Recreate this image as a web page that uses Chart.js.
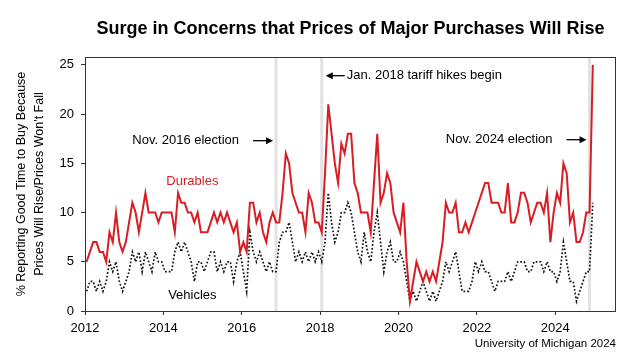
<!DOCTYPE html>
<html>
<head>
<meta charset="utf-8">
<script src="https://cdn.jsdelivr.net/npm/chart.js@4"></script>
<style>
  html, body { margin: 0; padding: 0; background: #fff; }
  #wrap { width: 627px; height: 360px; }
</style>
</head>
<body>
<div id="wrap"><canvas id="chart" width="627" height="360"></canvas></div>
<script>
const startYear = 2012;

// monthly readings, Jan 2012 - Dec 2024
const durables = [
  5, 6, 7, 7, 6, 6, 5, 8, 7, 10, 7, 6,        // 2012
  7, 9, 11, 10, 8, 10, 12, 10, 10, 10, 9, 10, // 2013
  10, 10, 10, 8, 12, 11, 11, 10, 10, 9, 10, 8, // 2014
  8, 8, 9, 10, 9, 10, 9, 10, 9, 8, 9, 6,      // 2015
  7, 6, 11, 11, 9, 10, 8, 7, 9, 10, 9, 9,     // 2016
  12, 16, 15, 12, 11, 10, 10, 8, 12, 11, 9, 9, // 2017
  8, 14, 21, 18, 15, 13, 17, 16, 18, 18, 13, 12, // 2018
  10, 10, 10, 8, 13, 18, 11, 12, 14, 13, 10, 9, // 2019
  8, 11, 5, 1, 3, 5, 4, 3, 4, 3, 4, 3,        // 2020
  5, 7, 11, 10, 10, 11, 8, 8, 9, 8, 9, 10,    // 2021
  11, 12, 13, 13, 11, 11, 11, 10, 10, 13, 9, 9, // 2022
  10, 12, 12, 11, 9, 10, 11, 11, 10, 12, 7, 10, // 2023
  12, 11, 15, 14, 9, 10, 7, 7, 8, 10, 10, 25  // 2024
];
const vehicles = [
  2, 3, 3, 2, 3, 2, 3, 5, 4, 5, 3, 2,         // 2012
  3, 4, 6, 5, 6, 4, 6, 5, 4, 6, 5, 5,         // 2013
  4, 4, 4, 6, 7, 6, 7, 6, 5, 3, 5, 5,         // 2014
  4, 5, 6, 6, 4, 5, 4, 5, 5, 3, 5, 6,         // 2015
  4, 2, 8, 6, 5, 6, 5, 4, 5, 4, 4, 7,         // 2016
  8, 8, 9, 7, 5, 6, 5, 6, 5, 6, 5, 6,         // 2017
  5, 7, 12, 9, 7, 8, 10, 10, 11, 10, 8, 6,    // 2018
  5, 8, 6, 5, 8, 10, 7, 4, 6, 7, 5, 5,        // 2019
  6, 5, 3, 1, 2, 1, 2, 3, 2, 1, 2, 1,         // 2020
  2, 3, 5, 4, 5, 6, 4, 2, 2, 2, 3, 5,         // 2021
  4, 5, 4, 4, 3, 2, 3, 3, 3, 4, 3, 4,         // 2022
  5, 5, 5, 4, 4, 5, 5, 5, 4, 5, 4, 4,         // 2023
  3, 4, 7, 5, 3, 3, 1, 2, 3, 4, 4, 11         // 2024
];

const xTicks = [2012, 2014, 2016, 2018, 2020, 2022, 2024];
const yTicks = [0, 5, 10, 15, 20, 25];

// event markers: [year, month index]
const eventYears = [2016, 2018, 2024];
const eventMonths = [10, 0, 10];
const eventLabels = ['Nov. 2016 election', 'Jan. 2018 tariff hikes begin', 'Nov. 2024 election'];
const eventLabelY = [17.3, 23.9, 17.4];
const eventSide = ['left', 'right', 'left'];

const monthX = i => startYear + (i + 0.5) / 12;
const toPoints = arr => arr.map((v, i) => ({ x: monthX(i), y: v }));

const FONT = "'Liberation Sans', Arial, sans-serif";
const RED = '#d81e24';

function arrow(ctx, x1, y, x2) {
  const dir = Math.sign(x2 - x1);
  ctx.beginPath();
  ctx.moveTo(x1, y);
  ctx.lineTo(x2 - dir * 5, y);
  ctx.stroke();
  ctx.beginPath();
  ctx.moveTo(x2, y);
  ctx.lineTo(x2 - dir * 7, y - 3.5);
  ctx.lineTo(x2 - dir * 7, y + 3.5);
  ctx.closePath();
  ctx.fill();
}

const overlay = {
  id: 'overlay',
  beforeDatasetsDraw(chart) {
    const { ctx, chartArea: a, scales: { x } } = chart;
    ctx.save();
    ctx.strokeStyle = '#e2e2e2';
    ctx.lineWidth = 3;
    eventYears.forEach((yr, k) => {
      const px = x.getPixelForValue(yr + (eventMonths[k] + 0.5) / 12);
      ctx.beginPath();
      ctx.moveTo(px, a.top);
      ctx.lineTo(px, a.bottom);
      ctx.stroke();
    });
    ctx.restore();
  },
  afterDatasetsDraw(chart) {
    const { ctx, chartArea: a, scales: { x, y } } = chart;
    ctx.save();
    // frame
    ctx.strokeStyle = '#333';
    ctx.lineWidth = 1;
    ctx.strokeRect(Math.round(a.left) + 0.5, Math.round(a.top) + 0.5,
                   Math.round(a.width) - 1, Math.round(a.height));

    // event labels + arrows
    ctx.font = '13px ' + FONT;
    ctx.fillStyle = '#000';
    ctx.strokeStyle = '#000';
    ctx.lineWidth = 1.3;
    ctx.textBaseline = 'middle';
    eventYears.forEach((yr, k) => {
      const px = x.getPixelForValue(yr + (eventMonths[k] + 0.5) / 12);
      const py = y.getPixelForValue(eventLabelY[k]);
      if (eventSide[k] === 'left') {
        ctx.textAlign = 'right';
        ctx.fillText(eventLabels[k], px - 37, py);
        arrow(ctx, px - 23, py, px - 3);
      } else {
        ctx.textAlign = 'left';
        ctx.fillText(eventLabels[k], px + 25, py);
        arrow(ctx, px + 23, py, px + 4);
      }
    });

    // series labels
    ctx.textAlign = 'center';
    ctx.fillStyle = RED;
    ctx.fillText('Durables', x.getPixelForValue(2014.74), y.getPixelForValue(13.2));
    ctx.fillStyle = '#000';
    ctx.fillText('Vehicles', x.getPixelForValue(2014.74), y.getPixelForValue(1.6));
    ctx.restore();
  }
};

new Chart(document.getElementById('chart'), {
  type: 'line',
  data: {
    datasets: [
      {
        label: 'Durables',
        data: toPoints(durables),
        borderColor: RED,
        borderWidth: 2,
        pointRadius: 0,
        tension: 0
      },
      {
        label: 'Vehicles',
        data: toPoints(vehicles),
        borderColor: '#111',
        borderWidth: 1.7,
        borderDash: [1.7, 2],
        pointRadius: 0,
        tension: 0
      }
    ]
  },
  options: {
    responsive: false,
    animation: false,
    layout: { padding: { left: 0, right: 11, top: 0, bottom: 0 } },
    plugins: {
      legend: { display: false },
      tooltip: { enabled: false },
      title: {
        display: true,
        text: 'Surge in Concerns that Prices of Major Purchases Will Rise',
        font: { family: FONT, size: 18, weight: 'bold' },
        color: '#000',
        fullSize: false,
        padding: { top: 18, bottom: 17.4 }
      },
      subtitle: {
        display: true,
        text: 'University of Michigan 2024',
        position: 'bottom',
        align: 'end',
        fullSize: false,
        font: { family: FONT, size: 11.5 },
        color: '#000',
        padding: { top: 0, bottom: 9.2 }
      }
    },
    scales: {
      x: {
        type: 'linear',
        min: 2012,
        max: 2025.55,
        afterBuildTicks: s => { s.ticks = xTicks.map(v => ({ value: v })); },
        afterFit: s => { s.height = 26; },
        border: { display: false },
        grid: { drawOnChartArea: false, drawTicks: true, tickLength: 4, color: '#333' },
        ticks: {
          font: { family: FONT, size: 13 },
          color: '#000',
          padding: 6,
          maxRotation: 0,
          callback: v => String(v)
        }
      },
      y: {
        min: 0,
        max: 25.8,
        afterBuildTicks: s => { s.ticks = yTicks.map(v => ({ value: v })); },
        afterFit: s => { s.width = 85; },
        border: { display: false },
        grid: { drawOnChartArea: false, drawTicks: true, tickLength: 4, color: '#333' },
        ticks: {
          font: { family: FONT, size: 13 },
          color: '#000',
          padding: 7,
          callback: v => String(v)
        },
        title: {
          display: true,
          text: ['% Reporting Good Time to Buy Because', "Prices Will Rise/Prices Won't Fall"],
          font: { family: FONT, size: 12.5, lineHeight: 1.4 },
          color: '#000',
          padding: { top: 13, bottom: 0 }
        }
      }
    }
  },
  plugins: [overlay]
});
</script>
</body>
</html>
